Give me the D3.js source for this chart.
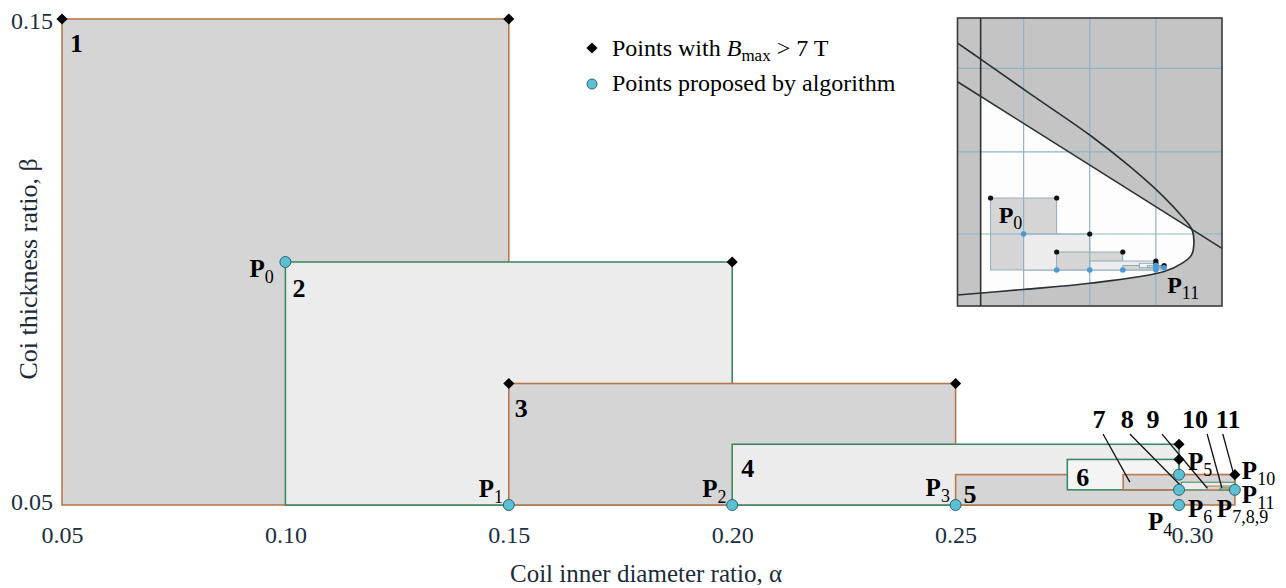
<!DOCTYPE html>
<html>
<head>
<meta charset="utf-8">
<script src="https://cdn.jsdelivr.net/npm/d3@7"></script>
<style>
  body { margin: 0; background: #fff; }
  svg { display: block; }
  svg text { font-family: 'Liberation Serif', 'Times New Roman', serif; }
</style>
</head>
<body>
<svg id="chart" width="1286" height="588"></svg>
<script>
// search rectangles, in the order the algorithm built them
const rectIds    = ['1', '2', '3', '4', '5', '6', '7', '8', '9', '10', '11'];
const rectAlpha0 = [0.05, 0.10, 0.15, 0.20, 0.25, 0.275, 0.2875, 0.3005, 0.3063, 0.3092, 0.311];
const rectAlpha1 = [0.15, 0.20, 0.25, 0.30, 0.3125, 0.30, 0.3125, 0.3125, 0.3125, 0.3125, 0.3125];
const rectBeta0  = [0.05, 0.05, 0.05, 0.05, 0.05, 0.053125, 0.053125, 0.053125, 0.053125, 0.053125, 0.053125];
const rectBeta1  = [0.15, 0.10, 0.075, 0.0625, 0.05625, 0.059375, 0.05625, 0.0546875, 0.0539, 0.0535, 0.0533];

// points with Bmax > 7 T
const bmaxAlpha = [0.05, 0.15, 0.20, 0.15, 0.25, 0.30, 0.30, 0.3125];
const bmaxBeta  = [0.15, 0.15, 0.10, 0.075, 0.075, 0.0625, 0.059375, 0.05625];

// points proposed by algorithm
const propAlpha = [0.10, 0.15, 0.20, 0.25, 0.30, 0.30, 0.30, 0.3125];
const propBeta  = [0.10, 0.05, 0.05, 0.05, 0.05, 0.05625, 0.053125, 0.053125];

// P labels
const pSubs  = ['0', '1', '2', '3', '4', '5', '6', '7,8,9', '10', '11'];
const pAlpha = [0.10, 0.15, 0.20, 0.25, 0.30, 0.30, 0.30, 0.3125, 0.3125, 0.3125];
const pBeta  = [0.10, 0.05, 0.05, 0.05, 0.05, 0.05625, 0.05, 0.053125, 0.05625, 0.053125];

// numbers of the tiny rectangles, with leader lines
const tagIds     = ['7', '8', '9', '10', '11'];
const tagAlpha   = [0.2821, 0.2884, 0.2942, 0.3036, 0.311];
const tagBeta    = 0.0658;
const leadAlpha0 = [0.283, 0.289, 0.2962, 0.3063, 0.3098];
const leadAlpha1 = [0.289, 0.3007, 0.3063, 0.3096, 0.3121];
const leadBeta0  = 0.0646;
const leadBeta1  = [0.0547, 0.0537, 0.0535, 0.0535, 0.0568];

const xTicks = [0.05, 0.10, 0.15, 0.20, 0.25, 0.30];
const yTicks = [0.05, 0.15];

// inset: field limit curve and the straight limit line
const curveAlpha = [0.0, 0.035, 0.1095, 0.2, 0.261, 0.3115, 0.34, 0.3545, 0.3575, 0.354, 0.34, 0.3115, 0.2, 0.0994, 0.0];
const curveBeta  = [0.365, 0.343, 0.295, 0.2375, 0.1935, 0.152, 0.124, 0.1065, 0.088, 0.071, 0.0595, 0.0475, 0.0315, 0.023, 0.0153];
const lineAlpha  = [0.0, 0.4];
const lineBeta   = [0.3115, 0.080];
const wallAlpha  = 0.035;
const gridAlpha  = [0.1, 0.2, 0.3];
const gridBeta   = [0.10, 0.214, 0.33];

// layout
const numOffsets = [[8, 33], [7, 35], [6, 33], [9, 33], [8, 28], [9, 27]];
const pOffsets = [[-36, 15], [-30, -8], [-30, -8], [-30, -9], [-31, 25], [9, -5], [9, 12], [-18, 27], [7, 4], [7, 13]];

const serif = "'Liberation Serif', 'Times New Roman', serif";
const dark = '#d5d5d5', light = '#ececec', pale = '#f4f4f4';
const brown = '#b8784e', green = '#3b8a63';
const cyan = '#5cbfd2';
const tickColor = '#1a2f3f';

const svg = d3.select('#chart');

const x = d3.scaleLinear().domain([0.05, 0.30]).range([62, 1179]);
const y = d3.scaleLinear().domain([0.05, 0.15]).range([505, 19]);

// rectangles
svg.append('g').selectAll('rect')
  .data(rectIds)
  .join('rect')
    .attr('x', (d, i) => x(rectAlpha0[i]))
    .attr('y', (d, i) => y(rectBeta1[i]))
    .attr('width', (d, i) => x(rectAlpha1[i]) - x(rectAlpha0[i]))
    .attr('height', (d, i) => y(rectBeta0[i]) - y(rectBeta1[i]))
    .attr('fill', (d, i) => i === 5 ? pale : (i % 2 ? light : dark))
    .attr('stroke', (d, i) => i % 2 ? green : brown)
    .attr('stroke-width', (d, i) => i > 6 ? 1 : 1.6);

// numbers of the big rectangles
svg.append('g').selectAll('text')
  .data(rectIds.slice(0, 6))
  .join('text')
    .attr('x', (d, i) => x(rectAlpha0[i]) + numOffsets[i][0])
    .attr('y', (d, i) => y(rectBeta1[i]) + numOffsets[i][1])
    .style('font-size', '26px')
    .style('font-weight', 'bold')
    .text(d => d);

// leader lines and numbers of the small ones
svg.append('g').selectAll('line')
  .data(tagIds)
  .join('line')
    .attr('x1', (d, i) => x(leadAlpha0[i]))
    .attr('y1', y(leadBeta0))
    .attr('x2', (d, i) => x(leadAlpha1[i]))
    .attr('y2', (d, i) => y(leadBeta1[i]))
    .attr('stroke', '#111')
    .attr('stroke-width', 1.3);

svg.append('g').selectAll('text')
  .data(tagIds)
  .join('text')
    .attr('x', (d, i) => x(tagAlpha[i]))
    .attr('y', y(tagBeta))
    .style('text-anchor', 'middle')
    .style('font-size', '26px')
    .style('font-weight', 'bold')
    .text(d => d);

// markers
const diamond = d3.symbol().type(d3.symbolSquare).size(62);

svg.append('g').selectAll('path')
  .data(bmaxAlpha)
  .join('path')
    .attr('d', diamond)
    .attr('transform', (d, i) => `translate(${x(d)},${y(bmaxBeta[i])}) rotate(45)`)
    .attr('fill', '#000');

svg.append('g').selectAll('circle')
  .data(propAlpha)
  .join('circle')
    .attr('cx', d => x(d))
    .attr('cy', (d, i) => y(propBeta[i]))
    .attr('r', 5.5)
    .attr('fill', cyan)
    .attr('stroke', '#2c6474')
    .attr('stroke-width', 1);

// P labels
function pLabel(g, px, py, sub, size, subSize) {
  let t = g.append('text').attr('x', px).attr('y', py).style('font-family', serif);
  t.append('tspan').style('font-weight', 'bold').style('font-size', size + 'px').text('P');
  t.append('tspan').attr('dy', 6).style('font-size', subSize + 'px').text(sub);
}

let pg = svg.append('g');
pSubs.forEach((s, i) => {
  pLabel(pg, x(pAlpha[i]) + pOffsets[i][0], y(pBeta[i]) + pOffsets[i][1], s, 25, 18);
});

// axes
let xAxis = svg.append('g')
  .attr('transform', 'translate(0,505)')
  .call(d3.axisBottom(x).tickValues(xTicks).tickFormat(d3.format('.2f')).tickSize(0).tickPadding(21));
xAxis.select('.domain').remove();
xAxis.attr('font-family', null);
xAxis.selectAll('text')
  .style('font-family', serif)
  .style('font-size', '24px')
  .attr('fill', tickColor)
  .attr('dx', d => d === 0.30 ? 13 : 0);

let yAxis = svg.append('g')
  .attr('transform', 'translate(62,0)')
  .call(d3.axisLeft(y).tickValues(yTicks).tickFormat(d3.format('.2f')).tickSize(0).tickPadding(9));
yAxis.select('.domain').remove();
yAxis.attr('font-family', null);
yAxis.selectAll('text')
  .style('font-family', serif)
  .style('font-size', '24px')
  .attr('fill', tickColor)
  .attr('dy', d => d === 0.05 ? '0.2em' : '0.4em');

svg.append('text')
  .attr('x', 646)
  .attr('y', 582)
  .style('text-anchor', 'middle')
  .style('font-family', serif)
  .style('font-size', '25px')
  .attr('fill', '#1b2b38')
  .text('Coil inner diameter ratio, α');

svg.append('text')
  .attr('transform', 'translate(37,269) rotate(-90)')
  .style('text-anchor', 'middle')
  .style('font-family', serif)
  .style('font-size', '26px')
  .attr('fill', '#1b2b38')
  .text('Coi thickness ratio, β');

// legend
let legend = svg.append('g');
legend.append('path')
  .attr('d', diamond)
  .attr('transform', 'translate(592,48) rotate(45)')
  .attr('fill', '#000');
legend.append('circle')
  .attr('cx', 592).attr('cy', 84).attr('r', 5)
  .attr('fill', cyan).attr('stroke', '#2c6474');

let l1 = legend.append('text').attr('x', 612).attr('y', 56)
  .style('font-family', serif).style('font-size', '24px');
l1.append('tspan').text('Points with ');
l1.append('tspan').style('font-style', 'italic').text('B');
l1.append('tspan').attr('dy', 5).style('font-size', '17px').text('max');
l1.append('tspan').attr('dy', -5).text(' > 7 T');

legend.append('text').attr('x', 612).attr('y', 91)
  .style('font-family', serif).style('font-size', '24px')
  .text('Points proposed by algorithm');

// inset
const ix = d3.scaleLinear().domain([0, 0.4]).range([957.5, 1222]);
const iy = d3.scaleLinear().domain([0, 0.4]).range([306, 18]);
const lineAt = d3.scaleLinear().domain(lineAlpha).range(lineBeta);

let inset = svg.append('g');

inset.append('rect')
  .attr('x', ix(0)).attr('y', iy(0.4))
  .attr('width', ix(0.4) - ix(0)).attr('height', iy(0) - iy(0.4))
  .attr('fill', '#c4c4c4');

let clipPts = [[wallAlpha, lineAt(wallAlpha)], [0.4, lineAt(0.4)], [0.4, 0], [wallAlpha, 0]];
svg.append('defs').append('clipPath').attr('id', 'feasible')
  .append('path')
    .attr('d', 'M' + clipPts.map(p => [ix(p[0]), iy(p[1])].join(',')).join('L') + 'Z');

const curveLine = d3.line()
  .x((d, i) => ix(curveAlpha[i]))
  .y((d, i) => iy(curveBeta[i]))
  .curve(d3.curveCatmullRom);

inset.append('path')
  .attr('d', curveLine(curveAlpha) + 'Z')
  .attr('fill', '#fdfdfd')
  .attr('clip-path', 'url(#feasible)');

// small copies of the rectangles
inset.append('g').selectAll('rect')
  .data(rectIds)
  .join('rect')
    .attr('x', (d, i) => ix(rectAlpha0[i]))
    .attr('y', (d, i) => iy(rectBeta1[i]))
    .attr('width', (d, i) => ix(rectAlpha1[i]) - ix(rectAlpha0[i]))
    .attr('height', (d, i) => iy(rectBeta0[i]) - iy(rectBeta1[i]))
    .attr('fill', (d, i) => i === 5 ? pale : (i % 2 ? light : dark))
    .attr('stroke', '#7e9fb0')
    .attr('stroke-width', 0.8);

// grid
inset.append('g').selectAll('line')
  .data(gridAlpha)
  .join('line')
    .attr('x1', d => ix(d)).attr('x2', d => ix(d))
    .attr('y1', iy(0)).attr('y2', iy(0.4))
    .attr('stroke', '#8fb3c4').attr('stroke-width', 1.2);

inset.append('g').selectAll('line')
  .data(gridBeta)
  .join('line')
    .attr('y1', d => iy(d)).attr('y2', d => iy(d))
    .attr('x1', ix(0)).attr('x2', ix(0.4))
    .attr('stroke', '#8fb3c4').attr('stroke-width', 1.2);

inset.append('path')
  .attr('d', curveLine(curveAlpha))
  .attr('fill', 'none')
  .attr('stroke', '#2b3035')
  .attr('stroke-width', 1.6);

inset.append('line')
  .attr('x1', ix(lineAlpha[0])).attr('y1', iy(lineBeta[0]))
  .attr('x2', ix(lineAlpha[1])).attr('y2', iy(lineBeta[1]))
  .attr('stroke', '#2b3035')
  .attr('stroke-width', 1.6);

inset.append('line')
  .attr('x1', ix(wallAlpha)).attr('x2', ix(wallAlpha))
  .attr('y1', iy(0)).attr('y2', iy(0.4))
  .attr('stroke', '#2b3035')
  .attr('stroke-width', 1.6);

inset.append('g').selectAll('circle')
  .data(bmaxAlpha)
  .join('circle')
    .attr('cx', d => ix(d))
    .attr('cy', (d, i) => iy(bmaxBeta[i]))
    .attr('r', 2.6)
    .attr('fill', '#111');

inset.append('g').selectAll('circle')
  .data(propAlpha)
  .join('circle')
    .attr('cx', d => ix(d))
    .attr('cy', (d, i) => iy(propBeta[i]))
    .attr('r', 2.8)
    .attr('fill', '#4d9ad8');

inset.append('rect')
  .attr('x', ix(0)).attr('y', iy(0.4))
  .attr('width', ix(0.4) - ix(0)).attr('height', iy(0) - iy(0.4))
  .attr('fill', 'none')
  .attr('stroke', '#3a3a3a')
  .attr('stroke-width', 1.6);

pLabel(inset, ix(propAlpha[0]) - 25, iy(propBeta[0]) - 11, '0', 24, 18);
pLabel(inset, ix(propAlpha[7]) + 3, iy(propBeta[7]) + 25, '11', 24, 18);
</script>
</body>
</html>
